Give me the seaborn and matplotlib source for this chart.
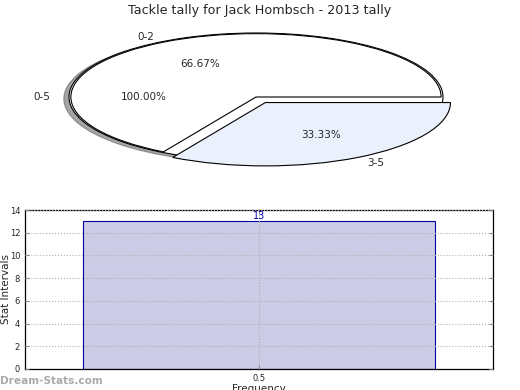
import matplotlib
matplotlib.use("Agg")
import matplotlib.pyplot as plt
import seaborn as sns

TITLE = "Tackle tally for Jack Hombsch - 2013 tally"
OUTER_LABELS = ["0-5"]
OUTER_SIZES = [13]
INNER_LABELS = ["0-2", "3-5"]
INNER_SIZES = [2, 1]
INNER_COLORS = ["#ffffff", "#eaf0fc"]
BAR_CATS = ["0.5"]
BAR_VALUES = [13]

sns.set_style("white")
plt.rcParams['font.family'] = ['DejaVu Sans']

fig = plt.figure(figsize=(5.2, 3.9), dpi=100)

# pie, squashed into an ellipse like the original
ax1 = fig.add_axes([22.25 / 520, 213 / 390, 467.5 / 520, 160 / 390])
ax1.pie(OUTER_SIZES, labels=OUTER_LABELS, colors=["white"], autopct="%1.2f%%",
        shadow=True, labeldistance=1.1, pctdistance=0.6,
        wedgeprops=dict(edgecolor="black", linewidth=0.8),
        textprops=dict(fontsize=7.5))
ax1.pie(INNER_SIZES, labels=INNER_LABELS, colors=INNER_COLORS, autopct="%1.2f%%",
        explode=[0, 0.1], radius=0.99, labeldistance=1.1, pctdistance=0.6,
        wedgeprops=dict(edgecolor="black", linewidth=0.8),
        textprops=dict(fontsize=7.5))
ax1.set_aspect("auto")
ax1.set_xlim(-1.25, 1.25)
ax1.set_ylim(-1.25, 1.25)
fig.text(0.5, 0.99, TITLE, ha="center", va="top", fontsize=9.2)

# bar chart
ax2 = fig.add_axes([25 / 520, 21 / 390, 468 / 520, 159 / 390])
sns.barplot(x=BAR_CATS, y=BAR_VALUES, ax=ax2, width=0.75,
            color="#ccccE6", saturation=1, edgecolor="#0000a0", linewidth=0.8)
ax2.set_xlim(-0.5, 0.5)
ax2.set_ylim(0, 14)
ax2.set_yticks(range(0, 15, 2))
ax2.grid(True, linestyle=":", color="#b0b0b0", linewidth=0.8)
ax2.set_axisbelow(False)
for bar in ax2.patches:
    bar.set_zorder(1)
for p, v in zip(ax2.patches, BAR_VALUES):
    ax2.text(p.get_x() + p.get_width() / 2, v, str(v), ha="center", va="bottom",
             color="#0000aa", fontsize=7, zorder=5)
ax2.tick_params(axis="both", labelsize=6, direction="in", length=3,
                right=True, top=True, bottom=True, left=True, color="#888888")
ax2.set_xlabel("Frequency", fontsize=7.5, labelpad=1)
ax2.set_ylabel("Stat Intervals", fontsize=7.5)
ax2.yaxis.set_label_coords(-0.03, 0.5)
for s in ax2.spines.values():
    s.set_color("black")
    s.set_linewidth(0.9)

fig.text(0.0, 0.01, "Dream-Stats.com", color="#aaaaaa", fontsize=7.6,
         fontweight="bold", ha="left", va="bottom")

fig.savefig("out.png", dpi=100)
